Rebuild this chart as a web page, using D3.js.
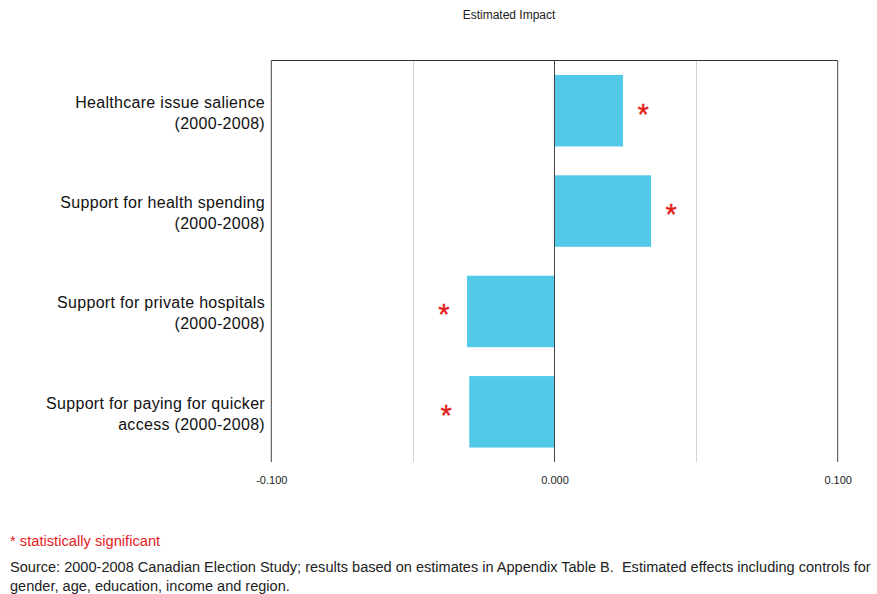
<!DOCTYPE html>
<html><head><meta charset="utf-8">
<script src="https://cdn.jsdelivr.net/npm/d3@7"></script>
<style>body{margin:0;background:#fff;} svg{display:block;font-family:"Liberation Sans",Arial,Helvetica,sans-serif;} text{white-space:pre;}</style>
</head><body>
<svg id="c" width="877" height="594"></svg>
<script>
const categories = [
  ["Healthcare issue salience", "(2000-2008)"],
  ["Support for health spending", "(2000-2008)"],
  ["Support for private hospitals", "(2000-2008)"],
  ["Support for paying for quicker", "access (2000-2008)"]
];
const values = [0.0242, 0.0341, -0.0309, -0.0301];
const significant = [true, true, true, true];
const tickValues = [-0.1, 0, 0.1];
const gridValues = [-0.05, 0.05];
const titleText = "Estimated Impact";
const noteText = "* statistically significant";
const sourceLines = [
  "Source: 2000-2008 Canadian Election Study; results based on estimates in Appendix Table B.  Estimated effects including controls for",
  "gender, age, education, income and region."
];

const svg = d3.select("#c");
const pLeft = 271.3, pRight = 837.7, pTop = 60.5, pBottom = 462;
const x = d3.scaleLinear().domain([-0.1, 0.1]).range([pLeft, pRight]);
const y = d3.scaleBand().domain(d3.range(categories.length)).range([pTop, pBottom]).paddingInner(0.288).paddingOuter(0.144);

svg.append("text").attr("x", 509).attr("y", 19).attr("text-anchor", "middle")
  .attr("font-size", 12).attr("fill", "#222").text(titleText);

// gridlines
svg.selectAll(".grid").data(gridValues).join("line")
  .attr("x1", d => Math.round(x(d)) + 0.5).attr("x2", d => Math.round(x(d)) + 0.5)
  .attr("y1", pTop).attr("y2", pBottom).attr("stroke", "#d4d4d4").attr("stroke-width", 1);

// bars
svg.selectAll(".bar").data(values).join("rect")
  .attr("x", d => x(Math.min(0, d))).attr("width", d => Math.abs(x(d) - x(0)))
  .attr("y", (d, i) => y(i)).attr("height", y.bandwidth()).attr("fill", "#52c9e8");

// frame / ticks
svg.append("line").attr("x1", pLeft).attr("x2", pRight).attr("y1", pTop).attr("y2", pTop)
  .attr("stroke", "#333").attr("stroke-width", 1);
const fmt = d3.format(".3f");
const xAxis = d3.axisBottom(x).tickValues(tickValues).tickFormat(d => fmt(d).replace("\u2212", "-")).tickSize(0).tickPadding(14);
const ax = svg.append("g").attr("transform", `translate(0,${pBottom})`).call(xAxis);
ax.select(".domain").remove();
ax.selectAll("text").attr("font-size", 11).attr("fill", "#222").attr("font-family", "Liberation Sans, Arial, sans-serif");
svg.selectAll(".tk").data(tickValues).join("line")
  .attr("x1", d => x(d)).attr("x2", d => x(d)).attr("y1", pTop).attr("y2", pBottom)
  .attr("stroke", "#444").attr("stroke-width", 1);

// asterisks
svg.selectAll(".ast").data(values).join("text")
  .attr("x", d => d >= 0 ? x(d) + 20 : x(d) - 23)
  .attr("y", (d, i) => y(i) + y.bandwidth() / 2 + 13)
  .attr("text-anchor", "middle").attr("font-size", 29).attr("fill", "#e3211c")
  .attr("stroke", "#e3211c").attr("stroke-width", 0.4)
  .text((d, i) => significant[i] ? "*" : "");

// category labels
categories.forEach((lines, i) => {
  const cy = y(i) + y.bandwidth() / 2;
  const t = svg.append("text").attr("text-anchor", "end").attr("font-size", 16).attr("letter-spacing", 0.3).attr("fill", "#111");
  lines.forEach((l, j) => t.append("tspan").attr("x", 265).attr("y", cy - 3 + j * 21).text(l));
});

// footer
svg.append("text").attr("x", 10).attr("y", 546).attr("font-size", 14.7).attr("fill", "#e3211c").text(noteText);
sourceLines.forEach((l, j) => svg.append("text").attr("x", 10).attr("y", 572 + j * 19)
  .attr("font-size", 14.55).attr("fill", "#222").text(l));
</script>
</body></html>
